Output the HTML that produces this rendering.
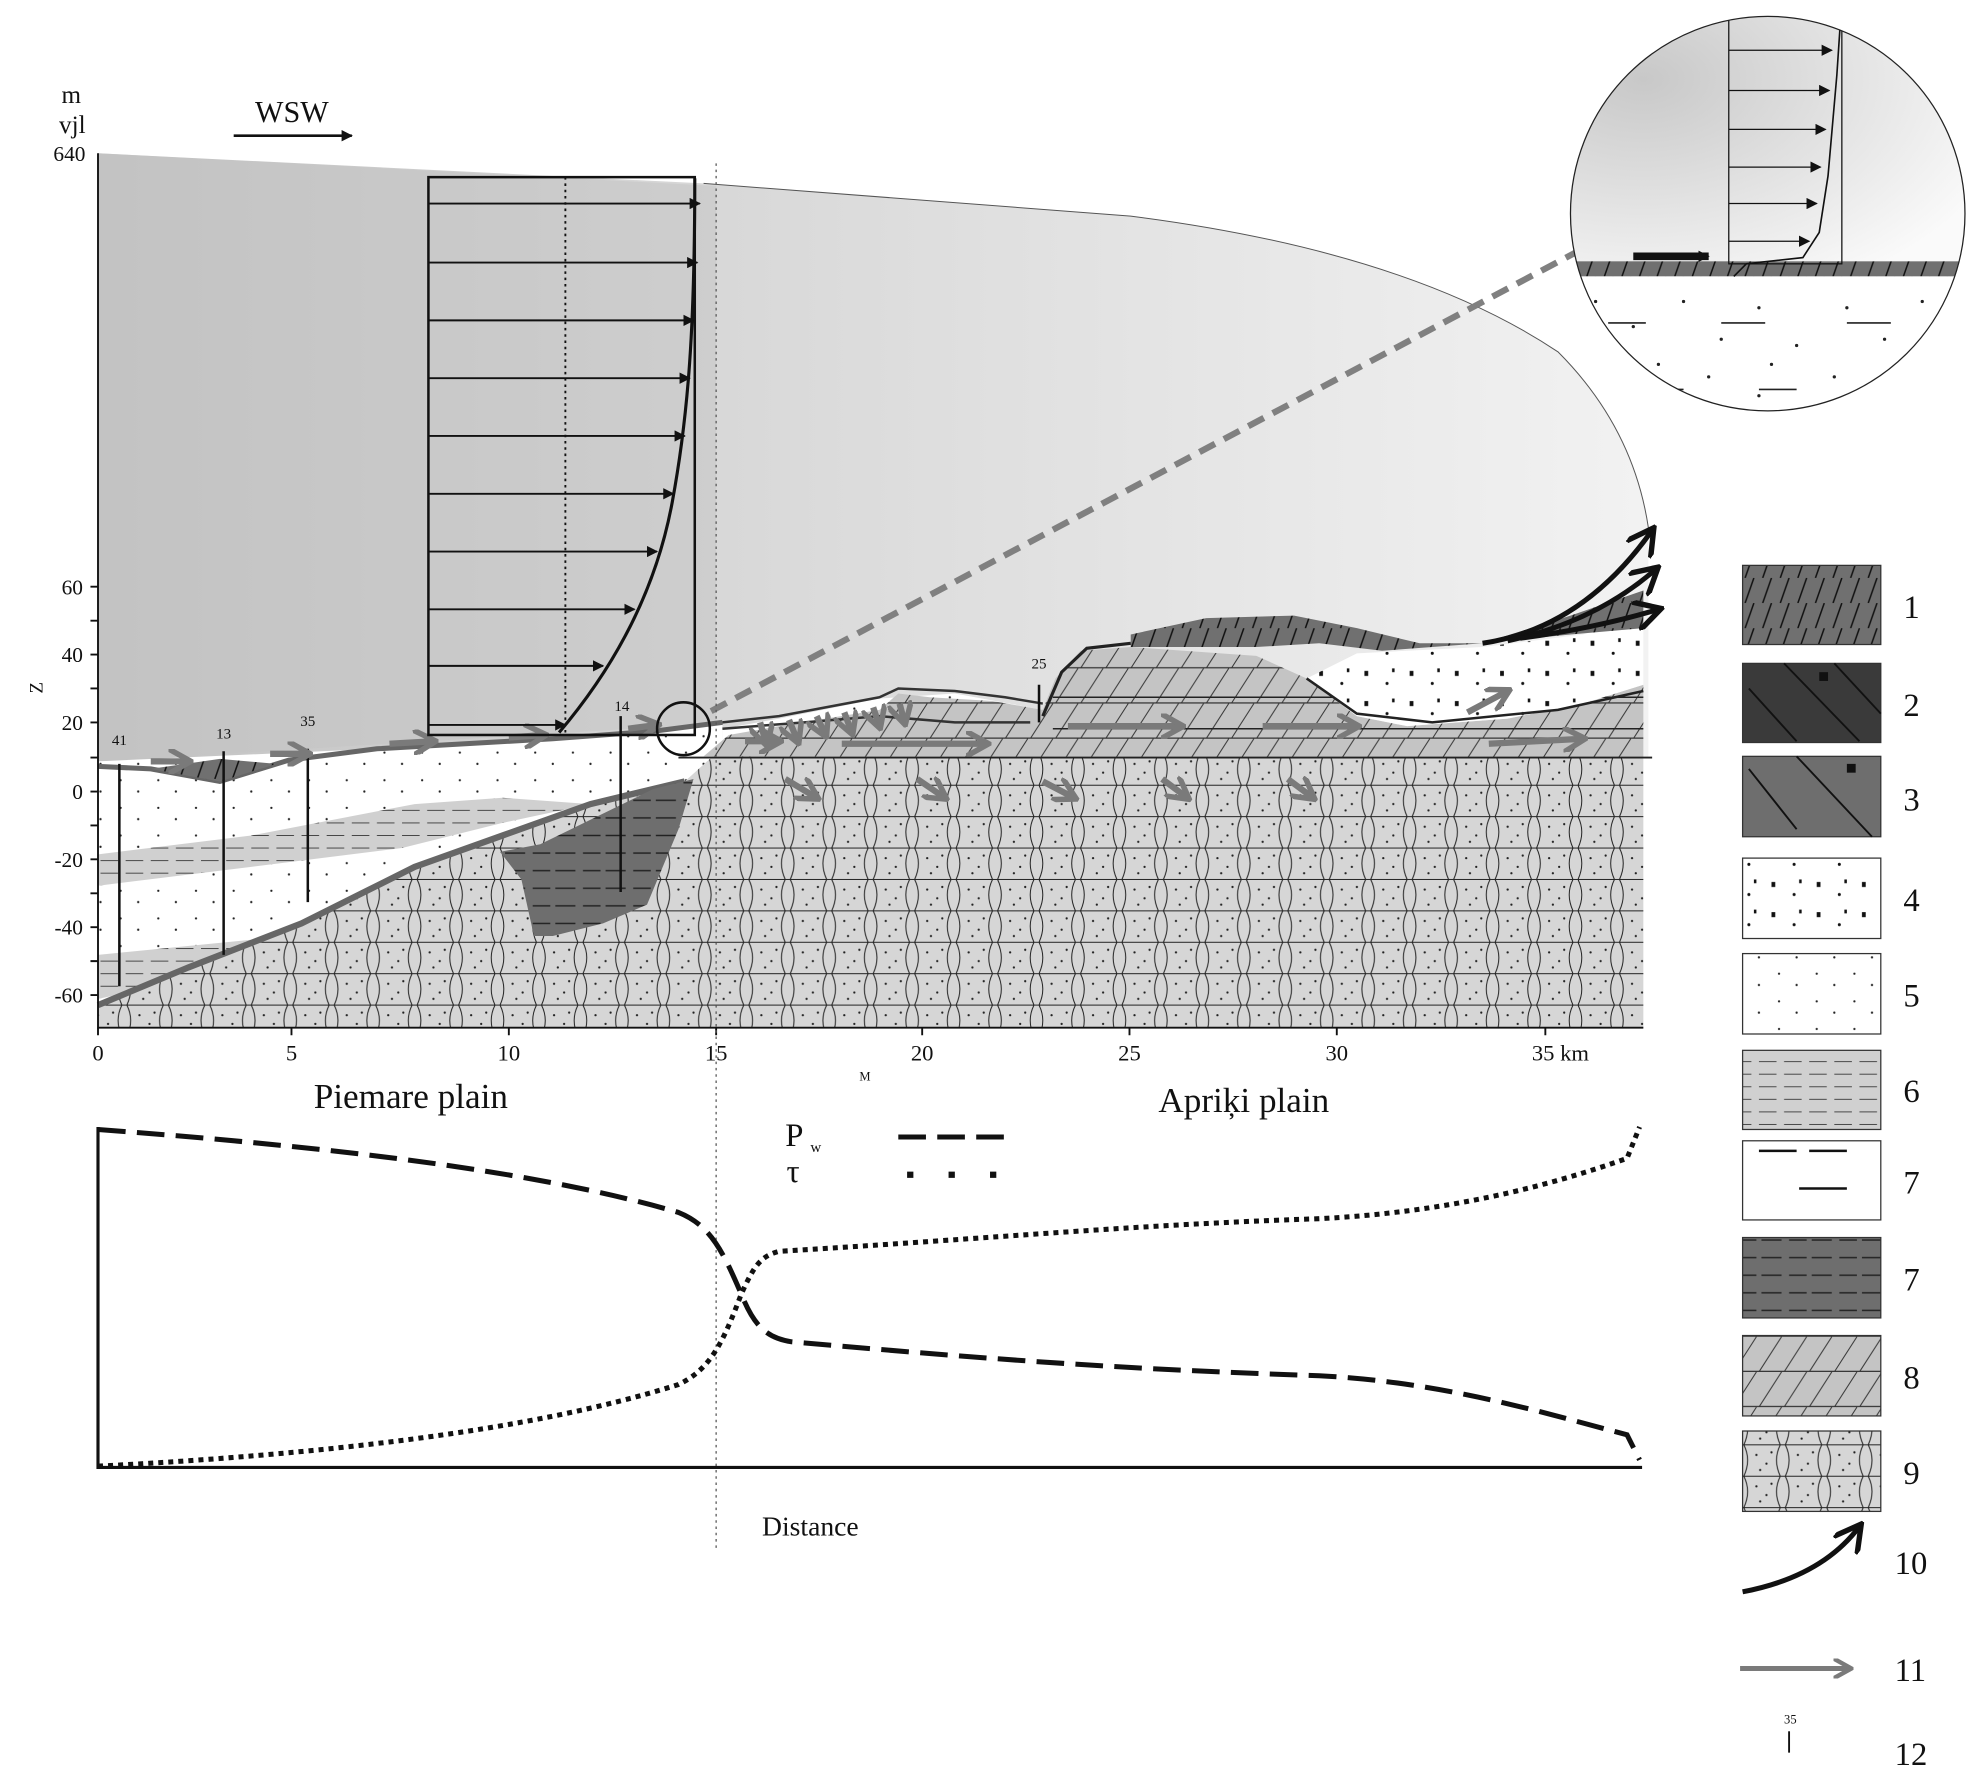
<!DOCTYPE html>
<html><head><meta charset="utf-8"><style>html,body{margin:0;padding:0;background:#fff}svg{display:block}text{font-family:"Liberation Serif",serif;fill:#111}</style></head><body>
<svg width="1970" height="1774" viewBox="0 0 1568 1412" preserveAspectRatio="none" xmlns="http://www.w3.org/2000/svg">
<defs>
<linearGradient id="air" x1="0" x2="1" y1="0" y2="0"><stop offset="0" stop-color="#c2c2c2"/><stop offset="0.4" stop-color="#d8d8d8"/><stop offset="1" stop-color="#f2f2f2"/></linearGradient>
<radialGradient id="inset" cx="0.2" cy="0.3" r="0.9"><stop offset="0" stop-color="#c8c8c8"/><stop offset="1" stop-color="#fafafa"/></radialGradient>
<pattern id="p9" width="33" height="25" patternUnits="userSpaceOnUse"><rect width="33" height="25" fill="#d6d6d6"/><path d="M0 0H33M0 25H33M2 0Q8 12 2 25M31 0Q25 12 31 25" stroke="#222" stroke-width="0.8" fill="none"/><circle cx="12" cy="8" r="0.9" fill="#222"/><circle cx="20" cy="15" r="0.9" fill="#222"/><circle cx="15" cy="20" r="0.9" fill="#222"/><circle cx="24" cy="6" r="0.9" fill="#222"/></pattern>
<pattern id="p8" width="40" height="28" patternUnits="userSpaceOnUse"><rect width="40" height="28" fill="#c4c4c4"/><path d="M0 28L18 0M20 28L38 0" stroke="#333" stroke-width="0.8"/><path d="M0 27.5H40" stroke="#333" stroke-width="1"/></pattern>
<pattern id="p1" width="14" height="20" patternUnits="userSpaceOnUse"><rect width="14" height="20" fill="#707070"/><path d="M3 20L10 0" stroke="#111" stroke-width="1.2"/></pattern>
<pattern id="p5" width="30" height="22" patternUnits="userSpaceOnUse"><rect width="30" height="22" fill="#fff"/><circle cx="6" cy="5" r="0.9" fill="#222"/><circle cx="20" cy="14" r="0.9" fill="#222"/></pattern>
<pattern id="p4" width="36" height="24" patternUnits="userSpaceOnUse"><rect width="36" height="24" fill="#fff"/><rect x="6" y="6" width="3" height="4" fill="#111"/><circle cx="24" cy="16" r="1.2" fill="#111"/><rect x="28" y="4" width="2" height="3" fill="#111"/></pattern>
<pattern id="p6" width="40" height="10" patternUnits="userSpaceOnUse"><rect width="40" height="10" fill="#d0d0d0"/><path d="M0 5H14M20 5H34" stroke="#444" stroke-width="0.8"/></pattern>
<pattern id="p7d" width="40" height="14" patternUnits="userSpaceOnUse"><rect width="40" height="14" fill="#6e6e6e"/><path d="M2 7H18M24 7H38" stroke="#222" stroke-width="1.2"/></pattern>
<marker id="ga" viewBox="0 0 10 10" refX="8" refY="5" markerWidth="4" markerHeight="4" orient="auto"><path d="M0 0L9 5L0 10" fill="none" stroke="#7a7a7a" stroke-width="2.2"/></marker>
<marker id="ba" viewBox="0 0 10 10" refX="9" refY="5" markerWidth="9" markerHeight="9" markerUnits="userSpaceOnUse" orient="auto"><path d="M0 0L10 5L0 10Z" fill="#111"/></marker>
<marker id="bo" viewBox="0 0 10 10" refX="8" refY="5" markerWidth="6" markerHeight="6" orient="auto"><path d="M0 0L9 5L0 10" fill="none" stroke="#111" stroke-width="1.8"/></marker>
</defs>

<!-- air -->
<path d="M78 122 L560 146 L900 172 Q1120 200 1240 280 Q1300 340 1312 420 L1312 603 L78 606 Z" fill="url(#air)"/>
<path d="M78 122 L570 148 L570 576 L78 606 Z" fill="#c4c4c4" opacity="0.5"/>
<path d="M560 146 L900 172 Q1120 200 1240 280 Q1300 340 1312 420" fill="none" stroke="#555" stroke-width="0.8"/>

<!-- geology -->
<path d="M78 606 L300 596 L440 588 L575 575 L575 818 L78 818 Z" fill="url(#p5)"/>
<path d="M575 580 L620 572 L700 556 L760 552 L830 565 L830 590 L575 600 Z" fill="url(#p5)"/>
<path d="M78 680 L200 665 L330 640 L400 635 L470 640 L400 655 L320 675 L200 690 L78 705 Z" fill="url(#p6)"/>
<path d="M78 760 L200 748 L230 745 L150 780 L78 795 Z" fill="url(#p6)"/>
<path d="M78 818 L78 800 L150 770 L240 735 L330 690 L400 665 L470 640 L545 622 L575 595 L600 603 L1308 603 L1308 818 Z" fill="url(#p9)"/>
<path d="M78 800 L150 770 L240 735 L330 690 L400 665 L470 640 L545 622" fill="none" stroke="#666" stroke-width="5"/>
<path d="M398 678 L430 672 L520 628 L552 620 L540 660 L515 720 L480 735 L440 745 L425 745 L415 700 Z" fill="url(#p7d)"/>
<!-- layer 8 -->
<path d="M560 602 L580 585 L620 578 L700 565 L715 552 L740 555 L790 558 L830 565 L840 540 L860 518 L900 515 L1000 522 L1040 540 L1080 570 L1120 578 L1200 572 L1260 560 L1308 545 L1308 603 Z" fill="url(#p8)"/>
<path d="M838 555 H1308 M838 580 H1308" stroke="#222" stroke-width="1.2"/>
<path d="M540 603 H1315" stroke="#222" stroke-width="1.5"/>
<!-- layer 4 -->
<path d="M1040 540 L1080 520 L1180 515 L1260 505 L1308 490 L1308 545 L1260 560 L1200 572 L1120 578 L1080 570 Z" fill="url(#p4)"/>
<!-- layer 1 -->
<path d="M900 505 L960 492 L1030 490 L1080 500 L1130 512 L1180 512 L1250 490 L1308 470 L1308 500 L1250 505 L1180 512 L1100 518 L1050 512 L1000 515 L940 515 L900 515 Z" fill="url(#p1)"/>
<path d="M575 575 L620 570 L700 555 L715 548 L760 550 L800 555 L830 560 M575 580 L640 575 L700 570 L760 575 L820 575" stroke="#333" stroke-width="2" fill="none"/>
<path d="M830 570 L845 535 L865 516 L900 512" stroke="#222" stroke-width="2.5" fill="none"/>
<path d="M1040 540 L1080 568 L1140 575 L1240 565 L1308 550" stroke="#222" stroke-width="2" fill="none"/>
<!-- surface dark band left -->
<path d="M78 610 L120 612 L175 622 L230 605 L300 596 L440 588 L520 582 L575 575" fill="none" stroke="#666" stroke-width="4"/>
<path d="M120 612 L175 622 L220 608 L175 604 Z" fill="url(#p1)"/>
<!-- boreholes -->
<g stroke="#111" stroke-width="2"><path d="M95 608V785M178 598V760M245 596V718M494 570V710M827 545V575"/></g>
<g font-size="12"><text x="89" y="593">41</text><text x="172" y="588">13</text><text x="239" y="578">35</text><text x="489" y="566">14</text><text x="821" y="532">25</text></g>

<!-- gray arrows -->
<g stroke="#7a7a7a" stroke-width="5" fill="none" marker-end="url(#ga)">
<path d="M120 606 L150 606"/><path d="M215 600 L245 600"/><path d="M310 592 L345 590"/><path d="M405 587 L433 585"/><path d="M500 580 L523 577"/>
<path d="M593 590 L620 590"/><path d="M670 592 L785 592"/><path d="M850 578 L940 578"/><path d="M1005 578 L1080 578"/><path d="M1185 592 L1260 588"/>
<path d="M1168 567 L1200 550"/>
<path d="M625 620 L650 635"/><path d="M730 620 L752 635"/><path d="M830 622 L855 635"/><path d="M925 620 L945 635"/><path d="M1025 620 L1045 635"/>
<path d="M605 575 L610 592"/><path d="M628 573 L635 590"/><path d="M650 570 L657 585"/><path d="M672 567 L678 583"/><path d="M695 563 L700 578"/><path d="M716 560 L720 575"/>
</g>
<!-- black arrows (10) -->
<g stroke="#111" stroke-width="4" fill="none" marker-end="url(#bo)">
<path d="M1180 512 Q1260 500 1315 422"/><path d="M1200 510 Q1270 495 1318 453"/><path d="M1210 508 Q1270 500 1320 485"/>
</g>

<!-- axes -->
<path d="M78 122V818H1308" stroke="#111" stroke-width="1.5" fill="none"/>
<g stroke="#111" stroke-width="1.5"><path d="M72 467H78M72 494H78M72 521H78M72 548H78M72 575H78M72 603H78M72 630H78M72 657H78M72 684H78M72 711H78M72 738H78M72 765H78M72 792H78"/>
<path d="M78 818V824M232 818V824M405 818V824M570 818V824M734 818V824M899 818V824M1064 818V824M1230 818V824"/></g>
<g font-size="17" text-anchor="end" font-family="Liberation Sans"><text x="68" y="128">640</text><text x="66" y="473">60</text><text x="66" y="527">40</text><text x="66" y="581">20</text><text x="66" y="636">0</text><text x="66" y="690">-20</text><text x="66" y="744">-40</text><text x="66" y="798">-60</text></g>
<text x="34" y="552" font-size="15" font-family="Liberation Sans" transform="rotate(-90 34 552)">Z</text>
<text x="49" y="82" font-size="20">m</text><text x="47" y="106" font-size="20">vjl</text>
<text x="203" y="97" font-size="24">WSW</text><path d="M186 108H280" stroke="#111" stroke-width="2" marker-end="url(#ba)"/>
<g font-size="18" text-anchor="middle"><text x="78" y="844">0</text><text x="232" y="844">5</text><text x="405" y="844">10</text><text x="570" y="844">15</text><text x="734" y="844">20</text><text x="899" y="844">25</text><text x="1064" y="844">30</text><text x="1242" y="844">35 km</text></g>
<text x="684" y="860" font-size="10" font-family="Liberation Sans">M</text>
<text x="327" y="882" font-size="28" text-anchor="middle">Piemare plain</text>
<text x="990" y="885" font-size="28" text-anchor="middle">Apriķi plain</text>

<!-- wind profile -->
<rect x="341" y="141" width="212" height="444" fill="none" stroke="#111" stroke-width="2"/>
<path d="M450 141V585" stroke="#111" stroke-width="1.5" stroke-dasharray="2 3"/>
<g stroke="#111" stroke-width="1.5" marker-end="url(#ba)">
<path d="M341 162H557"/><path d="M341 209H555"/><path d="M341 255H552"/><path d="M341 301H549"/><path d="M341 347H545"/><path d="M341 393H536"/><path d="M341 439H523"/><path d="M341 485H505"/><path d="M341 530H480"/><path d="M341 577H450"/>
</g>
<path d="M553 142 C553 260 548 330 535 400 C522 470 490 530 445 583" fill="none" stroke="#111" stroke-width="2.5"/>
<circle cx="544" cy="580" r="21" fill="none" stroke="#111" stroke-width="2"/>
<path d="M566 566 L1256 200" stroke="#808080" stroke-width="5" stroke-dasharray="14 8"/>
<path d="M570 130V1235" stroke="#555" stroke-width="1" stroke-dasharray="2 3"/>

<!-- inset -->
<g>
<clipPath id="cc"><circle cx="1407" cy="170" r="157"/></clipPath>
<g clip-path="url(#cc)">
<rect x="1240" y="0" width="340" height="210" fill="url(#inset)"/>
<rect x="1240" y="208" width="340" height="12" fill="url(#p1)"/>
<rect x="1240" y="220" width="340" height="120" fill="#fff"/>
<g fill="#222"><circle cx="1270" cy="240" r="1.3"/><circle cx="1300" cy="260" r="1.3"/><circle cx="1340" cy="240" r="1.3"/><circle cx="1370" cy="270" r="1.3"/><circle cx="1400" cy="245" r="1.3"/><circle cx="1430" cy="275" r="1.3"/><circle cx="1470" cy="245" r="1.3"/><circle cx="1500" cy="270" r="1.3"/><circle cx="1530" cy="240" r="1.3"/><circle cx="1320" cy="290" r="1.3"/><circle cx="1360" cy="300" r="1.3"/><circle cx="1410" cy="290" r="1.3"/><circle cx="1460" cy="300" r="1.3"/><circle cx="1510" cy="290" r="1.3"/><circle cx="1400" cy="315" r="1.3"/></g>
<g stroke="#222" stroke-width="1.3"><path d="M1280 257H1310M1370 257H1405M1470 257H1505M1325 310H1340M1400 310H1430"/></g>
<rect x="1376" y="-10" width="90" height="220" fill="none" stroke="#111" stroke-width="1"/>
<g stroke="#111" stroke-width="1" marker-end="url(#ba)"><path d="M1376 10H1460"/><path d="M1376 40H1458"/><path d="M1376 72H1456"/><path d="M1376 103H1453"/><path d="M1376 133H1449"/><path d="M1376 162H1446"/><path d="M1376 192H1440"/></g>
<path d="M1466 0 L1462 60 L1455 140 L1448 185 L1435 205 L1390 210 L1380 220" fill="none" stroke="#111" stroke-width="1.3"/>
<path d="M1300 204H1360" stroke="#111" stroke-width="6" marker-end="url(#ba)"/>
</g>
<circle cx="1407" cy="170" r="157" fill="none" stroke="#222" stroke-width="1"/>
</g>

<!-- lower chart -->
<path d="M78 897V1168H1307" stroke="#111" stroke-width="2.5" fill="none"/>
<path d="M78 899 C250 912 420 930 540 965 C565 975 575 995 590 1030 C600 1055 610 1065 630 1068 C800 1083 900 1090 1050 1095 C1150 1100 1230 1125 1295 1142 L1305 1162" fill="none" stroke="#111" stroke-width="4" stroke-dasharray="22 9"/>
<path d="M78 1167 C250 1158 420 1140 540 1102 C565 1090 575 1070 590 1030 C600 1008 605 1000 620 996 C800 985 900 975 1050 970 C1150 965 1230 945 1295 922 L1305 897" fill="none" stroke="#111" stroke-width="4" stroke-dasharray="4 4"/>
<text x="625" y="912" font-size="26">P</text><text x="645" y="917" font-size="12">w</text>
<path d="M715 905H802" stroke="#111" stroke-width="4" stroke-dasharray="22 9"/>
<text x="626" y="941" font-size="26">τ</text>
<path d="M722 935H800" stroke="#111" stroke-width="5" stroke-dasharray="5 28"/>
<text x="645" y="1222" font-size="22" text-anchor="middle">Distance</text>

<!-- legend -->
<g stroke="#333" stroke-width="1">
<rect x="1387" y="450" width="110" height="63" fill="url(#p1)"/>
<rect x="1387" y="528" width="110" height="63" fill="#3a3a3a"/>
<rect x="1387" y="602" width="110" height="64" fill="#6e6e6e"/>
<rect x="1387" y="683" width="110" height="64" fill="url(#p4)"/>
<rect x="1387" y="759" width="110" height="64" fill="url(#p5)"/>
<rect x="1387" y="836" width="110" height="63" fill="url(#p6)"/>
<rect x="1387" y="908" width="110" height="63" fill="#fff"/>
<rect x="1387" y="985" width="110" height="64" fill="url(#p7d)"/>
<rect x="1387" y="1063" width="110" height="64" fill="url(#p8)"/>
<rect x="1387" y="1139" width="110" height="64" fill="url(#p9)"/>
</g>
<g stroke="#111" stroke-width="1.5" fill="none"><path d="M1392 548L1430 590M1420 528L1480 590M1460 528L1497 568M1392 612L1430 660M1430 602L1490 666"/></g>
<rect x="1448" y="535" width="7" height="7" fill="#111"/><rect x="1470" y="608" width="7" height="7" fill="#111"/>
<g stroke="#111" stroke-width="2"><path d="M1400 916H1430M1440 916H1470M1432 946H1470"/></g>
<path d="M1387 1267 Q1450 1255 1480 1215" stroke="#111" stroke-width="4" fill="none" marker-end="url(#bo)"/>
<path d="M1385 1328H1472" stroke="#7a7a7a" stroke-width="4" marker-end="url(#ga)"/>
<text x="1420" y="1372" font-size="10">35</text><path d="M1424 1378V1395" stroke="#111" stroke-width="1.5"/>
<g font-size="26"><text x="1515" y="492">1</text><text x="1515" y="570">2</text><text x="1515" y="645">3</text><text x="1515" y="725">4</text><text x="1515" y="801">5</text><text x="1515" y="877">6</text><text x="1515" y="950">7</text><text x="1515" y="1027">7</text><text x="1515" y="1105">8</text><text x="1515" y="1181">9</text><text x="1508" y="1253">10</text><text x="1508" y="1338">11</text><text x="1508" y="1405">12</text></g>
</svg>
</body></html>
